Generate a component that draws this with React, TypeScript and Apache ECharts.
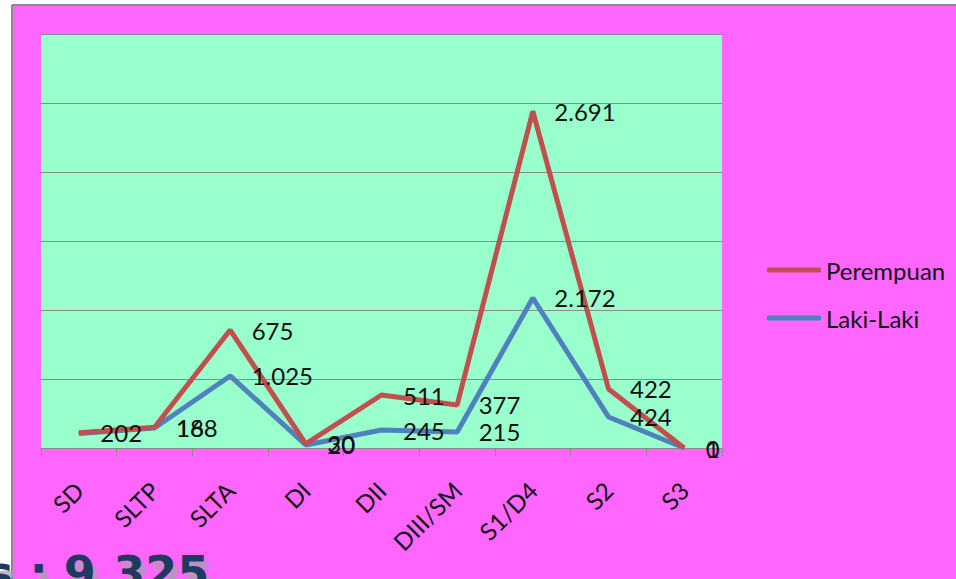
import React, { useEffect, useRef } from "react";
import * as echarts from "echarts";

const categories = ["SD", "SLTP", "SLTA", "DI", "DII", "DIII/SM", "S1/D4", "S2", "S3"];
const perempuanValues = [110, 150, 855, 30, 384, 312, 2440, 428, 0];
const lakiValues = [105, 145, 522, 22, 130, 116, 1087, 225, 0];
const perempuanLabels = ["202", "16", "675", "30", "511", "377", "2.691", "422", "0"];
const lakiLabels = ["", "188", "1.025", "20", "245", "215", "2.172", "424", "1"];
const totalText = "s : 9.325";

const FONT = "Lato, 'Open Sans', sans-serif";

export default function App() {
  const ref = useRef<HTMLDivElement>(null);
  useEffect(() => {
    document.body.style.margin = "0";
    const chart = echarts.init(ref.current!, null, { renderer: "svg" });
    const labelStyle = (labels: string[]) => ({
      show: true,
      position: "right",
      distance: 21,
      fontFamily: FONT,
      fontSize: 24,
      color: "#111",
      formatter: (p: any) => labels[p.dataIndex],
    });
    chart.setOption({
      animation: false,
      backgroundColor: "#FF66FF",
      grid: {
        left: 41,
        top: 34,
        width: 681,
        height: 414,
        show: true,
        backgroundColor: "#99FFCC",
        borderWidth: 0,
      },
      legend: {
        orient: "vertical",
        left: 762,
        top: 253,
        itemWidth: 54,
        itemHeight: 5,
        itemGap: 24,
        icon: "roundRect",
        data: ["Perempuan", "Laki-Laki"],
        textStyle: { fontFamily: FONT, fontSize: 24, color: "#111", lineHeight: 24 },
      },
      xAxis: {
        type: "category",
        data: categories,
        boundaryGap: true,
        axisLine: { lineStyle: { color: "#8A8A8A", width: 1 } },
        axisTick: { show: true, length: 8, lineStyle: { color: "#8A8A8A" } },
        axisLabel: {
          interval: 0,
          rotate: 45,
          margin: 38,
          fontFamily: FONT,
          fontSize: 24,
          color: "#111",
        },
      },
      yAxis: {
        type: "value",
        min: 0,
        max: 3000,
        interval: 500,
        axisLine: { show: false },
        axisTick: { show: false },
        axisLabel: { show: false },
        splitLine: { lineStyle: { color: "#8A8A8A", width: 1 } },
      },
      series: [
        {
          name: "Laki-Laki",
          type: "line",
          data: lakiValues,
          symbol: "circle",
          symbolSize: 1,
          color: "#4F81BD",
          lineStyle: { width: 5, color: "#4F81BD" },
          label: labelStyle(lakiLabels),
        },
        {
          name: "Perempuan",
          type: "line",
          data: perempuanValues,
          symbol: "circle",
          symbolSize: 1,
          color: "#C0504D",
          lineStyle: { width: 5, color: "#C0504D" },
          label: labelStyle(perempuanLabels),
        },
      ],
      graphic: [
        { type: "rect", shape: { x: 0, y: 0, width: 12, height: 579 }, style: { fill: "#FFFFFF" } },
        { type: "rect", shape: { x: 0, y: 0, width: 956, height: 5 }, style: { fill: "#FFFFFF" } },
        { type: "line", shape: { x1: 12, y1: 5, x2: 12, y2: 579 }, style: { stroke: "#8A8A8A", lineWidth: 2 } },
        { type: "line", shape: { x1: 12, y1: 5, x2: 956, y2: 5 }, style: { stroke: "#8A8A8A", lineWidth: 2 } },
        {
          type: "text",
          x: -9,
          y: 557,
          z: 100,
          style: {
            text: totalText,
            fontFamily: "'DejaVu Sans', sans-serif",
            fontWeight: "bold",
            fontSize: 46,
            fill: "rgba(170,160,175,0.75)",
            textVerticalAlign: "top",
          },
        },
        {
          type: "text",
          x: -14,
          y: 550,
          z: 101,
          style: {
            text: totalText,
            fontFamily: "'DejaVu Sans', sans-serif",
            fontWeight: "bold",
            fontSize: 46,
            fill: "#1F3A5F",
            textVerticalAlign: "top",
          },
        },
      ],
    });
    return () => chart.dispose();
  }, []);
  return <div ref={ref} style={{ width: 956, height: 579 }} />;
}
